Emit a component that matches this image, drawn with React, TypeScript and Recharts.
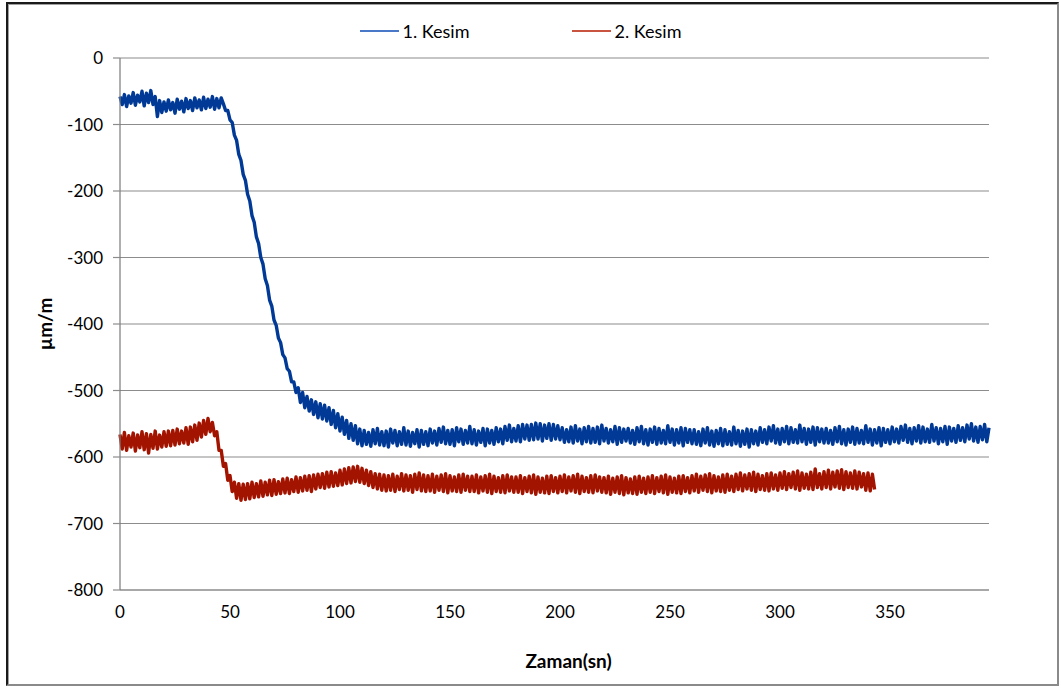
import React from 'react';
import { LineChart, Line, XAxis, YAxis, CartesianGrid } from 'recharts';

// Sampling interval of the recorded strain data (seconds)
const TIME_STEP_S = 1;

const SERIES_NAMES = ['1. Kesim', '2. Kesim'];
const X_TICKS = [0, 50, 100, 150, 200, 250, 300, 350];
const Y_TICKS = [0, -100, -200, -300, -400, -500, -600, -700, -800];

// 1. Kesim (µm/m), one value per second, t = 0 … 395 s
const KESIM_1 = [
  -58, -70, -55, -73, -57, -68, -52, -71, -56, -66, -50, -72, -53, -67, -49, -70, -58,
  -88,
  -64, -82, -66, -80, -63, -78, -67, -83, -62, -77, -65, -81, -61, -76, -64, -79, -60, -75, -63, -78,
  -59, -76, -62, -74, -58, -77, -61, -75, -60,
  -69, -79, -79, -93, -97, -116, -124, -145, -154, -175, -184, -205, -215, -237, -247, -269,
  -279, -300, -310, -332, -342, -364, -373, -394, -402, -421, -428, -446, -451, -467, -471, -487,
  -487, -503, -496, -518, -503, -526, -509, -531, -514, -536, -517, -541, -520, -543, -522, -546,
  -526, -551, -530, -556, -535, -561, -540, -566, -545, -572, -550, -575, -553, -580, -558, -583,
  -560, -581, -563, -584, -559, -580, -557, -582, -562, -583, -561, -585, -558, -579, -560, -583, -562, -581, -556, -582, -561, -584, -563, -580, -559, -585, -560, -581, -562, -583,
  -558, -579, -561, -582, -557, -578, -555, -580, -560, -581, -559, -583, -556, -577, -558, -581, -560, -579, -554, -580, -559, -582, -561, -578, -557, -583, -558, -579, -560, -581,
  -556, -577, -558, -580, -554, -575, -552, -577, -557, -576, -553, -577, -551, -573, -552, -575, -551, -574, -549, -573, -550, -576, -552, -572, -550, -575, -551, -573, -553, -574,
  -556, -578, -559, -577, -555, -579, -553, -576, -558, -580, -556, -577, -554, -579, -557, -578, -555, -580, -552, -576, -557, -579, -559, -577, -554, -581, -556, -578, -558, -576,
  -557, -579, -560, -581, -556, -577, -554, -580, -559, -582, -558, -578, -555, -581, -557, -579, -560, -580, -553, -578, -558, -582, -559, -579, -556, -583, -557, -578, -559, -580,
  -559, -581, -562, -583, -558, -579, -556, -582, -561, -584, -560, -580, -557, -583, -559, -581, -562, -582, -555, -580, -560, -584, -561, -581, -558, -585, -559, -580, -561, -582,
  -556, -578, -559, -580, -555, -576, -553, -579, -558, -581, -557, -577, -554, -580, -556, -578, -559, -579, -552, -577, -557, -581, -558, -578, -555, -582, -556, -577, -558, -579,
  -557, -579, -560, -581, -556, -577, -554, -580, -559, -582, -558, -578, -555, -581, -557, -579, -560, -580, -553, -578, -558, -582, -559, -579, -556, -583, -557, -578, -559, -580,
  -555, -577, -558, -579, -554, -575, -552, -578, -557, -580, -556, -576, -553, -579, -555, -577, -558, -578, -551, -576, -556, -580, -557, -577, -554, -581, -555, -576, -557, -578,
  -553, -575, -556, -577, -552, -573, -550, -576, -555, -578, -554, -574, -551, -577, -556,
];

// 2. Kesim (µm/m), one value per second, t = 0 … 343 s
const KESIM_2 = [
  -566, -588, -563, -590, -568, -585, -564, -591, -567, -586, -562, -589, -565, -594, -566, -587, -561, -588, -567, -585,
  -562, -584, -561, -583, -560, -582, -558, -580, -561, -579, -556, -581, -555, -577, -552, -575, -549, -570, -545, -566,
  -542, -562, -548, -568, -562, -590, -590, -614, -610, -635, -628, -652, -638, -662, -640, -665, -641, -664, -640, -663,
  -638, -661, -640, -660, -636, -659, -638, -657, -635, -658, -634, -656, -637, -655, -633, -654, -632, -655, -634, -652,
  -630, -653, -631, -651, -629, -650, -628, -652, -627, -648, -626, -646, -625, -647, -623, -645, -622, -644, -624, -643,
  -620, -642, -618, -640, -616, -639, -615, -637, -614, -638, -617, -640, -620, -643, -622, -646, -625, -648, -626, -650,
  -627, -651, -628, -650, -626, -652, -629, -649, -625, -651, -627, -650, -628, -653, -626, -649, -624, -651, -627, -652,
  -628, -651, -626, -653, -629, -650, -627, -652, -625, -654, -628, -651, -630, -652, -627, -653, -626, -650, -629, -652,
  -629, -652, -627, -654, -630, -651, -628, -653, -626, -655, -629, -652, -631, -653, -628, -654, -627, -651, -630, -653,
  -630, -653, -628, -655, -631, -652, -629, -654, -627, -656, -630, -653, -632, -654, -629, -655, -628, -652, -631, -654,
  -629, -652, -627, -654, -630, -651, -628, -653, -626, -655, -629, -652, -631, -653, -628, -654, -627, -651, -630, -653,
  -631, -654, -629, -656, -632, -653, -630, -655, -628, -657, -631, -654, -633, -655, -630, -656, -629, -653, -632, -655,
  -630, -653, -628, -655, -631, -652, -629, -654, -627, -656, -630, -653, -632, -654, -629, -655, -628, -652, -631, -654,
  -628, -651, -626, -653, -629, -650, -627, -652, -625, -654, -628, -651, -630, -652, -627, -653, -626, -650, -629, -652,
  -626, -649, -624, -651, -627, -648, -625, -650, -623, -652, -626, -649, -628, -650, -625, -651, -624, -648, -627, -650,
  -624, -647, -622, -649, -625, -646, -623, -648, -621, -650, -624, -647, -626, -648, -623, -649, -618, -646, -625, -648,
  -622, -646, -620, -648, -623, -645, -621, -647, -619, -649, -622, -646, -624, -647, -621, -648, -623, -645, -625, -650,
  -624, -651, -626, -649,
];

const SERIES_COLORS = ['#003A96', '#A31400'];
const LEGEND_COLORS = ['#4A78C8', '#C9543F'];
const FONT = 'Lato, "Open Sans", sans-serif';

const toPoints = (vals: number[]) => vals.map((v, i) => ({ t: i * TIME_STEP_S, v }));

const kesim1Data = toPoints(KESIM_1);
const kesim2Data = toPoints(KESIM_2);

export default function App() {
  return (
    <div style={{ position: 'absolute', left: 0, top: 0, width: 1061, height: 688, background: '#fff', fontFamily: FONT }}>
      <div
        style={{
          position: 'absolute',
          left: 6,
          top: 2,
          width: 1053,
          height: 684,
          boxSizing: 'border-box',
          borderTop: '2px solid #1a1a1a',
          borderLeft: '2px solid #1a1a1a',
          borderRight: '2px solid #8a8a8a',
          borderBottom: '2px solid #8a8a8a',
          boxShadow: 'inset 1px 1px 0 #a0a0a0',
        }}
      />
      <div
        style={{
          position: 'absolute',
          left: 0,
          top: 20,
          width: 1061,
          height: 22,
          display: 'flex',
          justifyContent: 'center',
          alignItems: 'center',
          gap: 102,
          paddingRight: 20,
          boxSizing: 'border-box',
          fontSize: 18,
          color: '#000',
        }}
      >
        {SERIES_NAMES.map((name, i) => (
          <div key={name} style={{ display: 'flex', alignItems: 'center' }}>
            <svg width={39} height={4}>
              <line x1={0} y1={2} x2={39} y2={2} stroke={LEGEND_COLORS[i]} strokeWidth={2} />
            </svg>
            <span style={{ marginLeft: 4, lineHeight: '22px' }}>{name}</span>
          </div>
        ))}
      </div>
      <div style={{ position: 'absolute', left: 0, top: 0 }}>
        <LineChart width={1061} height={688} margin={{ top: 58, right: 72, bottom: 0, left: 0 }}>
          <CartesianGrid vertical={false} stroke="#8c8c8c" strokeWidth={1.2} />
          <XAxis
            type="number"
            dataKey="t"
            domain={[0, 'dataMax']}
            ticks={X_TICKS}
            height={98}
            tickLine={false}
            tickSize={0}
            tickMargin={16}
            axisLine={{ stroke: '#8c8c8c', strokeWidth: 1.2 }}
            tick={{ fill: '#000', fontSize: 17, fontFamily: FONT }}
            allowDuplicatedCategory={false}
            label={{
              value: 'Zaman(sn)',
              position: 'insideBottom',
              offset: 20,
              dx: 14,
              style: { fontWeight: 700, fontSize: 19, fontFamily: FONT, fill: '#000' },
            }}
          />
          <YAxis
            type="number"
            domain={[-800, 0]}
            ticks={Y_TICKS}
            width={120}
            tickSize={7}
            tickMargin={10}
            axisLine={{ stroke: '#7a7a7a', strokeWidth: 1.2 }}
            tickLine={{ stroke: '#8c8c8c', strokeWidth: 1.2 }}
            tick={{ fill: '#000', fontSize: 17, fontFamily: FONT }}
            label={{
              value: 'µm/m',
              angle: -90,
              position: 'insideLeft',
              offset: 45,
              style: { textAnchor: 'middle', fontWeight: 700, fontSize: 19, fontFamily: FONT, fill: '#000' },
            }}
          />
          <Line
            data={kesim1Data}
            dataKey="v"
            name={SERIES_NAMES[0]}
            type="linear"
            stroke={SERIES_COLORS[0]}
            strokeWidth={3.4}
            strokeLinejoin="round"
            dot={false}
            activeDot={false}
            isAnimationActive={false}
          />
          <Line
            data={kesim2Data}
            dataKey="v"
            name={SERIES_NAMES[1]}
            type="linear"
            stroke={SERIES_COLORS[1]}
            strokeWidth={3.4}
            strokeLinejoin="round"
            dot={false}
            activeDot={false}
            isAnimationActive={false}
          />
        </LineChart>
      </div>
    </div>
  );
}
